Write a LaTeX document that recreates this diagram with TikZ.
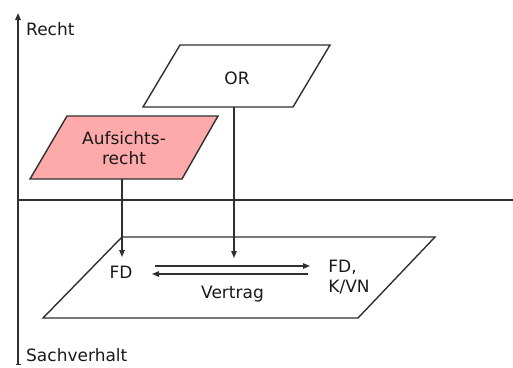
\documentclass[tikz,border=0pt]{standalone}
\usepackage{fontspec}
\setmainfont{DejaVu Sans}
\usetikzlibrary{arrows.meta}
\definecolor{ln}{HTML}{303030}
\definecolor{pinkfill}{HTML}{FFAAAA}
\tikzset{
  box/.style={draw=ln, line width=1.4pt, line join=miter},
  conn/.style={draw=ln, line width=1.4pt, -{Triangle[length=7pt,width=5.5pt]}},
  axis/.style={draw=ln, line width=1.5pt},
  lbl/.style={font=\fontsize{17}{20}\selectfont, text=black!90, inner sep=0pt, align=center},
}
\begin{document}
\begin{tikzpicture}[x=1pt,y=-1pt]
\useasboundingbox (0,0) rectangle (513,367);
% axes
\coordinate (ytop) at (18,13);
\coordinate (ybot) at (18,365);
\coordinate (xl) at (18,200);
\coordinate (xr) at (515,200);
\draw[axis, {Triangle[length=7pt,width=5.5pt]}-{Bar[width=5pt,line width=1.5pt]}] (ytop) -- (ybot);
\draw[axis] (xl) -- (xr);
\node[lbl, anchor=west] (recht) at (26,29) {Recht};
\node[lbl, anchor=west] (sach) at (26,355) {Sachverhalt};
% OR
\draw[box, fill=white] (180,45) -- (330,45) -- (293,107) -- (143,107) -- cycle;
\node[lbl] (or) at (237,78) {OR};
\coordinate (orb) at (234,107);
% Aufsichtsrecht
\draw[box, fill=pinkfill] (67,116) -- (218,116) -- (182,179) -- (30,179) -- cycle;
\node[lbl] (auf) at (124,148) {Aufsichts-\\recht};
\coordinate (aufb) at (122,179);
% bottom plane
\draw[box] (122,237) -- (435,237) -- (358,318) -- (43,318) -- cycle;
\node[lbl] (fd) at (121,272) {FD};
\node[lbl, align=left] (fdk) at (349,277) {FD,\\K/VN};
\node[lbl] (vertrag) at (232.5,294) {Vertrag};
\coordinate (aufe) at (122,257);
\coordinate (ore) at (234,258);
\coordinate (a1s) at (155,266);
\coordinate (a1e) at (310,266);
\coordinate (a2s) at (308,274);
\coordinate (a2e) at (152,274);
\draw[conn] (aufb) -- (aufe);
\draw[conn] (orb) -- (ore);
\draw[conn] (a1s) -- (a1e);
\draw[conn] (a2s) -- (a2e);
\end{tikzpicture}
\end{document}
